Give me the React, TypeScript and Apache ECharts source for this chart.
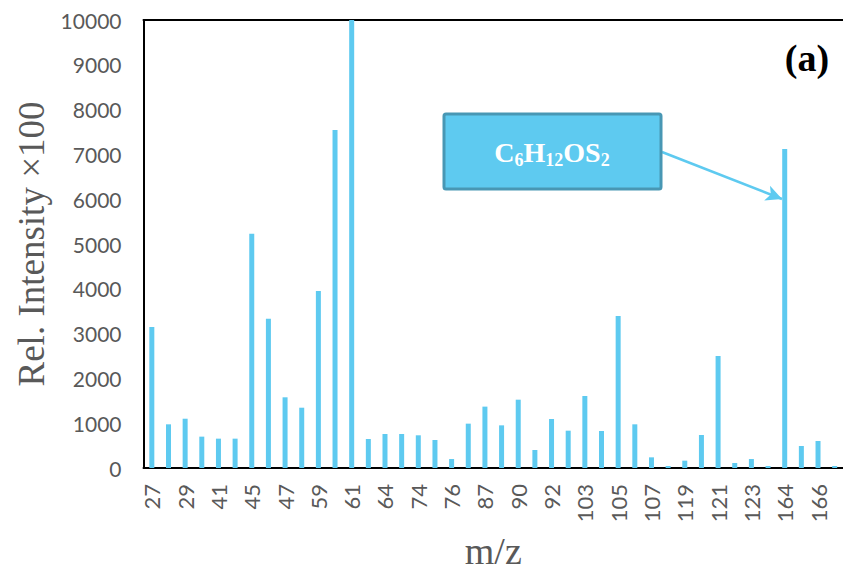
import React, { useEffect, useRef } from "react";
import * as echarts from "echarts";

const categories = [
  "27", "28", "29", "39", "41", "43", "45", "46", "47", "58", "59", "60", "61", "62",
  "64", "73", "74", "75", "76", "85", "87", "89", "90", "91", "92", "101", "103", "104",
  "105", "106", "107", "117", "119", "120", "121", "122", "123", "133", "164", "165",
  "166", "167",
];
const intensity = [
  3150, 975, 1100, 700, 655, 655, 5230, 3330, 1578, 1346, 3950, 7545, 10000, 647,
  759, 759, 730, 625, 200, 990, 1370, 952, 1525, 402, 1094, 833, 1607, 826,
  3393, 975, 238, 45, 164, 737, 2500, 112, 200, 45, 7120, 491, 603, 45,
];
const yTicks = { min: 0, max: 10000, interval: 1000 };
const annotationText = "{m|C}{s|6}{m|H}{s|12}{m|OS}{s|2}";
const panelLabel = "(a)";

export default function App() {
  const ref = useRef<HTMLDivElement>(null);
  useEffect(() => {
    if (!ref.current) return;
    const chart = echarts.init(ref.current, undefined, { renderer: "svg" });
    const barColor = "#5ECAF0";
    chart.setOption({
      animation: false,
      grid: { left: 143.5, top: 20, right: -3, bottom: 108 },
      xAxis: [
        {
          type: "category",
          data: categories,
          name: "m/z",
          nameLocation: "middle",
          nameGap: 64,
          nameTextStyle: { fontFamily: "Liberation Serif", fontSize: 38, color: "#595959" },
          axisLine: { show: true, lineStyle: { color: "#000", width: 2 } },
          axisTick: { show: false },
          axisLabel: {
            interval: 1,
            rotate: 90,
            margin: 16,
            fontFamily: "Lato",
            fontSize: 22,
            color: "#595959",
          },
        },
        {
          type: "category",
          data: categories,
          position: "top",
          axisLine: { show: true, lineStyle: { color: "#000", width: 2 } },
          axisTick: { show: false },
          axisLabel: { show: false },
        },
      ],
      yAxis: {
        type: "value",
        min: yTicks.min,
        max: yTicks.max,
        interval: yTicks.interval,
        name: "Rel. Intensity \u00d7100",
        nameLocation: "middle",
        nameGap: 86,
        nameTextStyle: { fontFamily: "Liberation Serif", fontSize: 37, color: "#595959" },
        axisLine: { show: true, lineStyle: { color: "#000", width: 2 } },
        axisTick: { show: false },
        splitLine: { show: false },
        axisLabel: {
          margin: 22,
          fontFamily: "Lato",
          fontSize: 21,
          color: "#595959",
          formatter: (v: number) => String(v),
        },
      },
      series: [
        {
          type: "bar",
          data: intensity,
          barWidth: 5,
          itemStyle: { color: barColor },
          markLine: {
            silent: true,
            symbol: ["none", "arrow"],
            symbolSize: [12, 16],
            label: { show: false },
            lineStyle: { color: barColor, width: 2.5, type: "solid" },
            data: [[{ x: 662, y: 152 }, { x: 782, y: 199 }]],
          },
        },
      ],
      graphic: [
        {
          type: "rect",
          shape: { x: 444, y: 114, width: 217, height: 75, r: 2 },
          style: { fill: "#5ECAF0", stroke: "#4897B4", lineWidth: 3 },
          z: 10,
        },
        {
          type: "text",
          x: 552,
          y: 152,
          z: 11,
          style: {
            text: annotationText,
            align: "center",
            verticalAlign: "middle",
            rich: {
              m: { fontFamily: "Liberation Serif", fontWeight: "bold", fontSize: 28, fill: "#fff", lineHeight: 34 },
              s: { fontFamily: "Liberation Serif", fontWeight: "bold", fontSize: 18, fill: "#fff", lineHeight: 18, verticalAlign: "bottom" },
            },
          },
        },
        {
          type: "text",
          x: 807,
          y: 58,
          z: 11,
          style: {
            text: panelLabel,
            align: "center",
            verticalAlign: "middle",
            fontFamily: "Liberation Serif",
            fontWeight: "bold",
            fontSize: 38,
            fill: "#000",
          },
        },
      ],
    });
    return () => chart.dispose();
  }, []);
  return (
    <div
      ref={ref}
      style={{ position: "fixed", left: 0, top: 0, width: 843, height: 576, background: "#fff" }}
    />
  );
}
